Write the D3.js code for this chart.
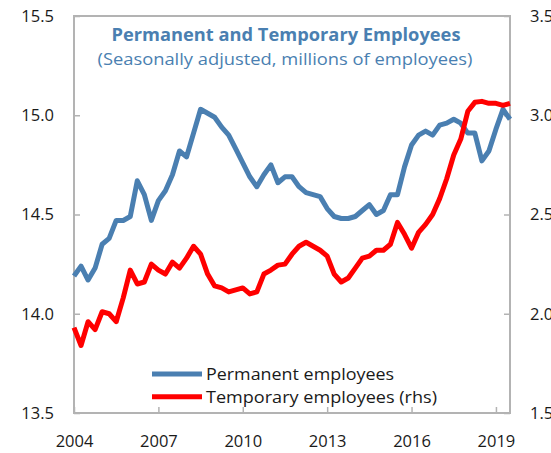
<!DOCTYPE html>
<html>
<head>
<meta charset="utf-8">
<script src="https://cdn.jsdelivr.net/npm/d3@7"></script>
<style>
  body { margin: 0; background: #fff; }
  svg text { font-family: "Open Sans", "Noto Sans", sans-serif; }
</style>
</head>
<body>
<svg id="chart" width="551" height="453"></svg>
<script>
// quarterly data, 2004Q1 .. 2019Q3
var startYear = 2004;

var permanent = [ // millions, left axis
	14.19, 14.24, 14.17, 14.23, 14.35, 14.38, 14.47, 14.47, 14.49, 14.67,
	14.60, 14.47, 14.57, 14.62, 14.70, 14.82, 14.79, 14.91, 15.03, 15.01,
	14.99, 14.94, 14.90, 14.83, 14.76, 14.69, 14.64, 14.70, 14.75, 14.66,
	14.69, 14.69, 14.64, 14.61, 14.60, 14.59, 14.53, 14.49, 14.48, 14.48,
	14.49, 14.52, 14.55, 14.50, 14.52, 14.60, 14.60, 14.74, 14.85, 14.90,
	14.92, 14.90, 14.95, 14.96, 14.98, 14.96, 14.91, 14.91, 14.77, 14.82,
	14.93, 15.03, 14.98
];

var temporary = [ // millions, right axis
	1.93, 1.84, 1.96, 1.92, 2.01, 2.00, 1.96, 2.08, 2.22, 2.15,
	2.16, 2.25, 2.22, 2.20, 2.26, 2.23, 2.28, 2.34, 2.30, 2.20,
	2.14, 2.13, 2.11, 2.12, 2.13, 2.10, 2.11, 2.20, 2.22, 2.245,
	2.25, 2.30, 2.34, 2.36, 2.34, 2.32, 2.29, 2.20, 2.16, 2.18,
	2.23, 2.28, 2.29, 2.32, 2.32, 2.35, 2.46, 2.40, 2.33, 2.41,
	2.45, 2.50, 2.58, 2.68, 2.80, 2.88, 3.02, 3.065, 3.07, 3.06,
	3.06, 3.05, 3.06
];

var yearTicks = [2004, 2007, 2010, 2013, 2016, 2019];
var leftTicks = [13.5, 14.0, 14.5, 15.0, 15.5];
var rightTicks = [1.5, 2.0, 2.5, 3.0, 3.5];

var titleText = "Permanent and Temporary Employees";
var subtitleText = "(Seasonally adjusted, millions of employees)";
var legendLabels = ["Permanent employees", "Temporary employees (rhs)"];
var legendWidths = [188, 231];

var BLUE = "#4a7fb1",
	RED = "#ff0000",
	GRID = "#b3b3b3";

var plot = { left: 74, right: 510, top: 16, bottom: 413 };

var svg = d3.select("#chart");

function quarterDate(i) { return startYear + i / 4; }

var x = d3.scaleLinear()
	.domain([startYear, quarterDate(permanent.length - 1)])
	.range([plot.left, plot.right]);
var yL = d3.scaleLinear().domain([13.5, 15.5]).range([plot.bottom, plot.top]);
var yR = d3.scaleLinear().domain([1.5, 3.5]).range([plot.bottom, plot.top]);

// frame
svg.append("rect")
	.attr("x", plot.left).attr("y", plot.top)
	.attr("width", plot.right - plot.left)
	.attr("height", plot.bottom - plot.top)
	.attr("fill", "none")
	.attr("stroke", GRID)
	.attr("stroke-width", 2);

function styleAxis(g) {
	g.select(".domain").remove();
	g.selectAll(".tick line").attr("stroke", GRID).attr("stroke-width", 1.5);
	g.selectAll(".tick text")
		.attr("fill", "#1a1a1a")
		.style("font-size", "16.5px");
}

svg.append("g")
	.attr("transform", "translate(" + plot.left + ",0)")
	.call(d3.axisLeft(yL).tickValues(leftTicks).tickFormat(d3.format(".1f"))
		.tickSizeInner(-6).tickSizeOuter(0).tickPadding(20))
	.call(styleAxis);

svg.append("g")
	.attr("transform", "translate(" + plot.right + ",0)")
	.call(d3.axisRight(yR).tickValues(rightTicks).tickFormat(d3.format(".1f"))
		.tickSizeInner(-6).tickSizeOuter(0).tickPadding(20))
	.call(styleAxis);

svg.append("g")
	.attr("transform", "translate(0," + plot.bottom + ")")
	.call(d3.axisBottom(x).tickValues(yearTicks).tickFormat(d3.format("d"))
		.tickSizeInner(-6).tickSizeOuter(0).tickPadding(22))
	.call(styleAxis);

// series
var lineL = d3.line()
	.x(function(d, i) { return x(quarterDate(i)); })
	.y(function(d) { return yL(d); });
var lineR = d3.line()
	.x(function(d, i) { return x(quarterDate(i)); })
	.y(function(d) { return yR(d); });

svg.append("path")
	.datum(permanent)
	.attr("d", lineL)
	.attr("fill", "none")
	.attr("stroke", BLUE)
	.attr("stroke-width", 5)
	.attr("stroke-linejoin", "round");

svg.append("path")
	.datum(temporary)
	.attr("d", lineR)
	.attr("fill", "none")
	.attr("stroke", RED)
	.attr("stroke-width", 5)
	.attr("stroke-linejoin", "round");

// titles
svg.append("text")
	.attr("x", 286).attr("y", 41)
	.attr("text-anchor", "middle")
	.attr("fill", BLUE)
	.attr("font-weight", "bold")
	.attr("textLength", 349)
	.attr("lengthAdjust", "spacingAndGlyphs")
	.style("font-size", "17px")
	.text(titleText);

svg.append("text")
	.attr("x", 285).attr("y", 65)
	.attr("text-anchor", "middle")
	.attr("fill", BLUE)
	.attr("textLength", 375)
	.attr("lengthAdjust", "spacingAndGlyphs")
	.style("font-size", "16px")
	.text(subtitleText);

// legend
var legend = svg.append("g").attr("transform", "translate(152,374)");
var legendColors = [BLUE, RED];
var items = legend.selectAll("g").data(legendLabels).enter().append("g")
	.attr("transform", function(d, i) { return "translate(0," + i * 22.7 + ")"; });
items.append("line")
	.attr("x1", 0).attr("x2", 50)
	.attr("stroke", function(d, i) { return legendColors[i]; })
	.attr("stroke-width", 5);
items.append("text")
	.attr("x", 54).attr("y", 6)
	.attr("fill", "#1a1a1a")
	.attr("textLength", function(d, i) { return legendWidths[i]; })
	.attr("lengthAdjust", "spacingAndGlyphs")
	.style("font-size", "17px")
	.text(function(d) { return d; });
</script>
</body>
</html>
